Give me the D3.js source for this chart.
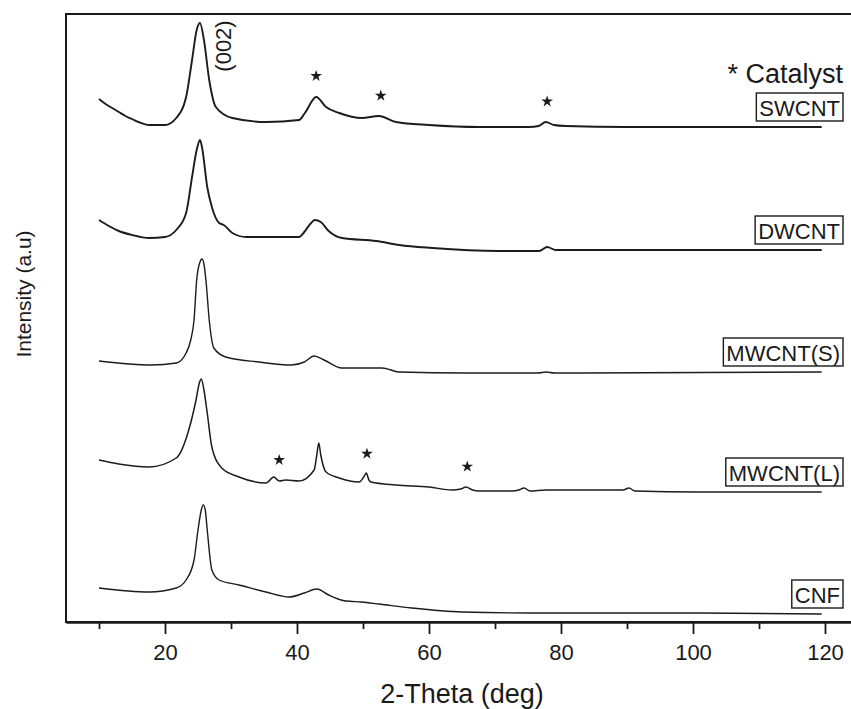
<!DOCTYPE html>
<html>
<head>
<meta charset="utf-8">
<script src="https://cdn.jsdelivr.net/npm/d3@7"></script>
<style>
  html, body { margin: 0; padding: 0; background: #fff; }
  svg { display: block; }
  text { font-family: "Liberation Sans", Arial, sans-serif; fill: #1a1a1a; }
</style>
</head>
<body>
<svg id="chart" width="851" height="709"></svg>
<script>
// XRD patterns of carbon nanomaterials, stacked with vertical offsets (a.u.)
const samples = ["SWCNT", "DWCNT", "MWCNT(S)", "MWCNT(L)", "CNF"];

const swcntTheta = [10.0, 11.0, 12.0, 13.0, 14.0, 15.0, 16.0, 17.6, 20.0, 21.7, 23.2, 24.1, 24.8, 25.3, 25.9, 26.7, 27.7, 30.2, 35.3, 40.3, 41.2, 42.9, 44.4, 46.4, 49.8, 52.4, 55.0, 60.0, 67.6, 75.2, 76.6, 77.7, 78.9, 80.7, 90.0, 100.0, 110.0, 119.5];
const swcntInt   = [523, 518, 514, 510, 506, 503, 500, 497, 497, 504, 525, 562, 592, 599, 582, 542, 515, 504, 500, 502, 509, 525, 515, 509, 504, 506, 500, 497, 495, 495, 496, 500, 497, 496, 495, 495, 495, 495];

const dwcntTheta = [10.0, 11.5, 13.0, 15.0, 17.6, 20.0, 21.7, 23.2, 24.1, 24.8, 25.3, 25.6, 26.4, 27.1, 28.2, 28.9, 30.2, 32.3, 40.3, 41.1, 42.0, 42.7, 43.6, 44.8, 46.8, 52.0, 55.5, 60.5, 70.6, 76.7, 77.9, 79.2, 90.0, 100.9, 119.5];
const dwcntInt   = [402, 396, 391, 387, 384, 385, 392, 409, 445, 472, 482, 475, 435, 415, 399, 397, 389, 385, 385, 390, 398, 402, 400, 391, 384, 381, 377, 374, 371, 371, 375, 372, 372, 372, 372];

const mwsTheta = [10.0, 18.0, 21.7, 23.2, 23.9, 24.4, 24.8, 25.3, 25.6, 25.9, 26.2, 26.7, 27.4, 29.2, 34.2, 39.2, 41.1, 42.6, 44.1, 46.8, 52.9, 55.5, 65.6, 76.5, 77.7, 79.0, 82.7, 119.5];
const mwsInt   = [261, 257, 259, 269, 282, 302, 342, 360, 363, 358, 342, 302, 274, 265, 260, 257, 260, 266, 262, 254, 254, 250, 249, 249, 250, 249, 249, 250];

const mwlTheta = [10.0, 13.0, 17.6, 21.7, 23.6, 24.7, 25.2, 25.5, 25.9, 26.4, 27.1, 28.6, 31.2, 35.3, 36.5, 37.3, 38.3, 40.3, 42.6, 43.0, 43.3, 43.6, 44.4, 46.4, 49.4, 50.2, 50.5, 50.9, 51.2, 55.0, 60.0, 63.5, 64.8, 65.6, 66.6, 67.6, 72.6, 73.6, 74.4, 75.3, 77.7, 85.0, 89.4, 90.3, 91.2, 100.9, 119.5];
const mwlInt   = [162, 158, 155, 164, 192, 222, 239, 243, 232, 209, 175, 154, 145, 139, 145, 141, 142, 141, 152, 167, 179, 167, 150, 144, 140, 146, 149, 142, 140, 137, 135, 132, 133, 135, 132, 131, 131, 132, 134, 131, 132, 132, 132, 134, 131, 130, 130];

const cnfTheta = [10.0, 17.6, 21.7, 23.2, 24.4, 25.0, 25.5, 25.8, 26.1, 26.4, 27.1, 28.2, 31.2, 35.3, 38.8, 41.1, 43.0, 44.8, 47.4, 49.8, 52.4, 57.4, 65.0, 75.2, 81.2, 100.9, 119.5];
const cnfInt   = [34, 30, 34, 42, 62, 92, 112, 117, 112, 92, 52, 42, 37, 30, 25, 29, 33, 27, 21, 20, 18, 14, 10, 9, 9, 9, 8];

// catalyst reflections marked with a star
const swcntCatalyst = [42.9, 52.7, 77.9];
const mwlCatalyst   = [37.3, 50.6, 65.8];

const xTicksMajor = [20, 40, 60, 80, 100, 120];
const xTicksMinor = [10, 30, 50, 70, 90, 110];

const series = [
  { name: samples[0], theta: swcntTheta, y: swcntInt, stars: swcntCatalyst, w: 1.9 },
  { name: samples[1], theta: dwcntTheta, y: dwcntInt, stars: [], w: 1.9 },
  { name: samples[2], theta: mwsTheta,   y: mwsInt,   stars: [], w: 1.4 },
  { name: samples[3], theta: mwlTheta,   y: mwlInt,   stars: mwlCatalyst, w: 1.5 },
  { name: samples[4], theta: cnfTheta,   y: cnfInt,   stars: [], w: 1.4 }
];

const svg = d3.select("#chart");
const plotLeft = 66, plotRight = 858, plotTop = 14, plotBottom = 622;

const x = d3.scaleLinear().domain([5, 125]).range([plotLeft, plotRight]);
const y = d3.scaleLinear().domain([0, 608]).range([plotBottom, plotTop]);

// plot frame (right edge runs past the page)
svg.append("rect")
  .attr("x", plotLeft).attr("y", plotTop)
  .attr("width", plotRight - plotLeft).attr("height", plotBottom - plotTop)
  .attr("fill", "none").attr("stroke", "#1a1a1a").attr("stroke-width", 2);

// x axis: minor and major ticks
const minorAxis = svg.append("g").attr("transform", `translate(0,${plotBottom})`)
  .call(d3.axisBottom(x).tickValues(xTicksMinor).tickSize(7).tickSizeOuter(0).tickFormat(""));
const majorAxis = svg.append("g").attr("transform", `translate(0,${plotBottom})`)
  .call(d3.axisBottom(x).tickValues(xTicksMajor).tickSize(12).tickSizeOuter(0).tickPadding(10).tickFormat(d3.format("d")));
[minorAxis, majorAxis].forEach(g => {
  g.select(".domain").attr("stroke", "#1a1a1a").attr("stroke-width", 2);
  g.selectAll(".tick line").attr("stroke", "#1a1a1a").attr("stroke-width", 1.8);
});
majorAxis.selectAll(".tick text")
  .style("font-family", '"Liberation Sans", Arial, sans-serif')
  .style("font-size", "22px").attr("fill", "#1a1a1a");

// axis titles
svg.append("text")
  .attr("x", 462).attr("y", 703)
  .attr("text-anchor", "middle")
  .style("font-size", "27px")
  .text("2-Theta (deg)");

svg.append("text")
  .attr("transform", "translate(31,294) rotate(-90)")
  .attr("text-anchor", "middle")
  .style("font-size", "21px")
  .text("Intensity (a.u)");

// patterns
const line = d3.line()
  .x(d => x(d[0]))
  .y(d => y(d[1]))
  .curve(d3.curveMonotoneX);

const interp = (s, t) => {
  const i = d3.bisectLeft(s.theta, t);
  const i0 = Math.max(0, i - 1), i1 = Math.min(s.theta.length - 1, i);
  if (i0 === i1) return s.y[i0];
  const f = (t - s.theta[i0]) / (s.theta[i1] - s.theta[i0]);
  return s.y[i0] + f * (s.y[i1] - s.y[i0]);
};

const star = d3.symbol().type(d3.symbolStar).size(42);

series.forEach(s => {
  const pts = s.theta.map((t, i) => [t, s.y[i]]);
  svg.append("path")
    .datum(pts)
    .attr("d", line)
    .attr("fill", "none")
    .attr("stroke", "#1c1c1c")
    .attr("stroke-width", s.w)
    .attr("stroke-linejoin", "round");

  s.stars.forEach(t => {
    svg.append("path")
      .attr("d", star)
      .attr("transform", `translate(${x(t)},${y(interp(s, t)) - 21})`)
      .attr("fill", "#1a1a1a");
  });

  // boxed sample label above the tail of each pattern
  const last = s.y[s.y.length - 1];
  const boxBottom = y(last) - 6;
  const g = svg.append("g");
  const box = g.append("rect");
  const lbl = g.append("text")
    .attr("x", 840).attr("y", boxBottom - 5)
    .attr("text-anchor", "end")
    .style("font-size", "22px")
    .text(s.name);
  const bb = lbl.node().getBBox();
  box.attr("x", bb.x - 3).attr("y", boxBottom - 28)
    .attr("width", bb.width + 6).attr("height", 28)
    .attr("fill", "#fff").attr("stroke", "#1a1a1a").attr("stroke-width", 1.4);
});

// peak annotation and legend note
svg.append("text")
  .attr("transform", `translate(${x(26) + 26},46) rotate(-90)`)
  .attr("text-anchor", "middle")
  .style("font-size", "22px")
  .text("(002)");

svg.append("text")
  .attr("x", 843).attr("y", 83)
  .attr("text-anchor", "end")
  .style("font-size", "27px")
  .text("* Catalyst");
</script>
</body>
</html>
